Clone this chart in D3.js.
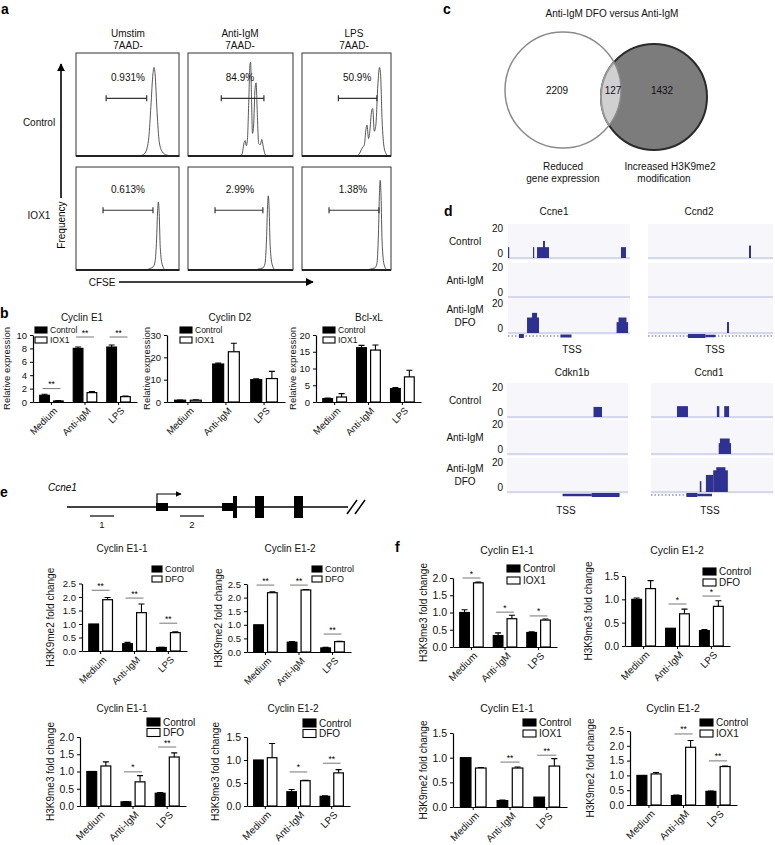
<!DOCTYPE html>
<html>
<head>
<meta charset="utf-8">
<script src="https://cdn.jsdelivr.net/npm/d3@7"></script>
<style>
  body { margin: 0; background: #fff; }
  svg { font-family: "Liberation Sans", Arial, Helvetica, sans-serif; }
</style>
</head>
<body>
<svg width="775" height="845"></svg>
<script>
// ---------- panel a : CFSE histograms  [CFSE 0-100, frequency 0-100]
const flowCols = [['Umstim', '7AAD-'], ['Anti-IgM', '7AAD-'], ['LPS', '7AAD-']];
const flowRows = ['Control', 'IOX1'];
const flowPct = [['0.931%', '84.9%', '50.9%'], ['0.613%', '2.99%', '1.38%']];
const flowGates = [[[29, 68], [32, 73], [35, 72]], [[26, 74], [26, 72], [26, 74]]];
const histUnstimCtrl = [[0,0],[60,0],[64,1],[67,4],[70,18],[72,48],[74,80],[75,86],[76,80],[78,42],[80,14],[83,4],[87,1],[92,0],[100,0]];
const histIgmCtrl = [[0,0],[50,0],[52,2],[54,13],[55,15],[56,10],[57,14],[58.5,55],[59.5,88],[60.2,91],[61,60],[62,22],[63,28],[64.5,66],[65.5,71],[66.5,45],[68,12],[69.5,11],[71,16],[72,11],[74,2],[76,0],[100,0]];
const histLpsCtrl = [[0,0],[52,0],[55,2],[57,6],[58,8],[60,11],[61.5,26],[62.5,30],[64,17],[65,22],[67,44],[68,46],[69.5,24],[71,30],[73,70],[74.5,86],[75.5,80],[77,35],[79,8],[81,2],[83,0],[100,0]];
const histUnstimIox = [[0,0],[66,0],[70,1],[74,3],[76,8],[77.5,30],[78.5,58],[79.2,66],[80,55],[81,22],[83,5],[86,0],[100,0]];
const histIgmIox = [[0,0],[64,0],[68,1],[72,2],[74,6],[75.5,30],[76.5,62],[77.2,72],[78,60],[79,24],[81,5],[84,0],[100,0]];
const histLpsIox = [[0,0],[62,0],[66,1],[70,2],[72,6],[73.5,35],[74.5,75],[75.2,87],[76,72],[77,28],[79,5],[82,0],[100,0]];

// ---------- panel b : relative expression  [group, control, sem, treated, sem]
const cycE1Expr = [['Medium',1.0,0.15,0.15,0.05],['Anti-IgM',8.0,0.2,1.4,0.15],['LPS',8.2,0.3,0.8,0.1]];
const cycD2Expr = [['Medium',0.8,0.1,0.8,0.15],['Anti-IgM',17.0,0.4,22.5,3.8],['LPS',10.0,0.4,10.5,3.2]];
const bclXlExpr = [['Medium',1.0,0.2,1.5,1.0],['Anti-IgM',16.2,0.7,15.5,1.5],['LPS',4.0,0.3,7.5,2.0]];
const cycE1Sig = [['Medium','**',2.0],['Anti-IgM','**',9.7],['LPS','**',9.7]];

// ---------- panel c : venn counts
const vennCounts = [2209, 127, 1432];
const vennLabels = [['Reduced', 'gene expression'], ['Increased H3K9me2', 'modification']];

// ---------- panel d : ChIP tracks  [start, end, signal] on 0-100 window
const trackRows = [['Control'], ['Anti-IgM'], ['Anti-IgM', 'DFO']];
const ccne1Tracks = [
  [[0,0.8,7],[20.5,21.3,7],[23.8,33.6,7],[28.7,30.3,11],[92.6,96.7,7]],
  [],
  [[15.6,25.4,10],[19.7,23.8,13],[89,98.4,7],[90.6,97.1,10]]];
const ccnd2Tracks = [[[80.8,82.4,8]], [], [[63.2,64.8,7]]];
const cdkn1bTracks = [[[71.5,78.5,6.5]], [], []];
const ccnd1Tracks = [
  [[21.3,30.3,7],[54,56,7],[60,64,7]],
  [[55.5,65.6,7],[56.5,64.5,10]],
  [[40,41.3,7],[45,51,11],[51,63,14],[53.5,61,16]]];
// gene models: [line start, line end], blocks [start, end, thickness]
const ccne1Gene = [[0, 52], [[9,13,4],[43,52,3]]];
const ccnd2Gene = [[0, 100], [[32,46,4],[46,54,2.5]]];
const cdkn1bGene = [[46, 93], [[46,70,2.5],[70,93,4]]];
const ccnd1Gene = [[0, 50], [[29,38,4],[38,50,2.5]]];

// ---------- panel e gene diagram (bp-like units)
const ccne1Exons = [[89,101,8],[155,166,8],[166,170,22],[188,197,22],[227,236,22]];
const ccne1Amplicons = [['1', 23, 47], ['2', 113, 137]];

// ---------- panels e / f : ChIP-qPCR fold change
const e1Me2Dfo = [['Medium',1.0,0,1.9,0.08],['Anti-IgM',0.27,0.05,1.42,0.32],['LPS',0.13,0.01,0.68,0.03]];
const e2Me2Dfo = [['Medium',1.0,0,2.18,0.03],['Anti-IgM',0.36,0.02,2.28,0.02],['LPS',0.15,0.02,0.38,0.01]];
const e1Me3Dfo = [['Medium',1.0,0,1.16,0.12],['Anti-IgM',0.12,0.01,0.7,0.18],['LPS',0.37,0.02,1.42,0.12]];
const e2Me3Dfo = [['Medium',1.0,0,1.05,0.31],['Anti-IgM',0.31,0.05,0.55,0.01],['LPS',0.21,0.01,0.72,0.07]];
const f1Me3Iox = [['Medium',1.0,0.08,1.86,0.02],['Anti-IgM',0.33,0.08,0.82,0.1],['LPS',0.42,0.02,0.78,0.03]];
const f2Me3Dfo = [['Medium',1.0,0.03,1.23,0.17],['Anti-IgM',0.38,0,0.69,0.1],['LPS',0.33,0.02,0.85,0.12]];
const f1Me2Iox = [['Medium',1.0,0,0.79,0.01],['Anti-IgM',0.13,0.01,0.79,0.02],['LPS',0.2,0,0.83,0.15]];
const f2Me2Iox = [['Medium',1.0,0,1.05,0.05],['Anti-IgM',0.32,0.02,1.95,0.23],['LPS',0.46,0.01,1.3,0.02]];
const e1Me2Sig = [['Medium','**',2.25],['Anti-IgM','**',1.96],['LPS','**',1.03]];
const e2Me2Sig = [['Medium','**',2.46],['Anti-IgM','**',2.46],['LPS','**',0.66]];
const e1Me3Sig = [['Anti-IgM','*',0.99],['LPS','**',1.71]];
const e2Me3Sig = [['Anti-IgM','*',0.74],['LPS','**',0.93]];
const f1Me3Sig = [['Medium','*',2.0],['Anti-IgM','*',1.01],['LPS','*',0.9]];
const f2Me3Sig = [['Anti-IgM','*',0.9],['LPS','*',1.07]];
const f1Me2Sig = [['Anti-IgM','**',0.91],['LPS','**',1.05]];
const f2Me2Sig = [['Anti-IgM','**',2.4],['LPS','**',1.49]];

const svg = d3.select('svg');
svg.append('rect').attr('width', 775).attr('height', 845).attr('fill', '#fff');

function text(x, y, s, size, anchor) {
  return svg.append('text').attr('x', x).attr('y', y).attr('dy', '0.35em')
    .attr('text-anchor', anchor || 'middle').attr('font-size', size).attr('fill', '#111').text(s);
}
function panelLetter(x, y, s) {
  svg.append('text').attr('x', x).attr('y', y).attr('font-size', 14)
    .attr('font-weight', 'bold').attr('fill', '#000').text(s);
}

// ================= panel a
panelLetter(1, 14, 'a');
const boxX = [76, 188, 302], boxW = [103, 105, 89], rowY = [53, 167], boxH = 103;
const hists = [[histUnstimCtrl, histIgmCtrl, histLpsCtrl], [histUnstimIox, histIgmIox, histLpsIox]];

svg.append('clipPath').attr('id', 'clipA').append('rect')
  .attr('x', 302).attr('y', 0).attr('width', 89).attr('height', 300);

flowCols.forEach((c, j) => {
  text(boxX[j] + 52, 33, c[0], 10);
  text(boxX[j] + 52, 45, c[1], 10);
});

flowRows.forEach((r, i) => {
  flowCols.forEach((c, j) => {
    const xs = d3.scaleLinear().domain([0, 100]).range([boxX[j], boxX[j] + 104]);
    const ys = d3.scaleLinear().domain([0, 100]).range([rowY[i] + boxH, rowY[i]]);
    const g = svg.append('g');
    if (j === 2) g.attr('clip-path', 'url(#clipA)');
    g.append('path').datum(hists[i][j])
      .attr('d', d3.line().x(d => xs(d[0])).y(d => ys(d[1])).curve(d3.curveMonotoneX))
      .attr('fill', 'none').attr('stroke', '#444').attr('stroke-width', 0.9);
    svg.append('rect').attr('x', boxX[j]).attr('y', rowY[i]).attr('width', boxW[j]).attr('height', boxH)
      .attr('fill', 'none').attr('stroke', '#333').attr('stroke-width', 1);
    svg.append('line').attr('x1', boxX[j]).attr('x2', boxX[j] + boxW[j])
      .attr('y1', rowY[i] + boxH).attr('y2', rowY[i] + boxH).attr('stroke', '#222').attr('stroke-width', 1.8);
    const gate = flowGates[i][j], gy = ys(i ? 58 : 56);
    svg.append('line').attr('x1', xs(gate[0])).attr('x2', xs(gate[1])).attr('y1', gy).attr('y2', gy)
      .attr('stroke', '#333').attr('stroke-width', 1.2);
    gate.forEach(v => svg.append('line').attr('x1', xs(v)).attr('x2', xs(v))
      .attr('y1', gy - 3).attr('y2', gy + 3).attr('stroke', '#333').attr('stroke-width', 1.2));
    const px = (j === 2) ? (i ? 49 : 53) : 50;
    text(xs(px), ys(i ? 78 : 76), flowPct[i][j], 10);
  });
  text(39, i ? 215 : 122, r, 10);
});

// axes arrows
svg.append('defs').append('marker').attr('id', 'arr').attr('viewBox', '0 0 10 10')
  .attr('refX', 9).attr('refY', 5).attr('markerWidth', 5).attr('markerHeight', 5).attr('orient', 'auto')
  .append('path').attr('d', 'M0,0L10,5L0,10z').attr('fill', '#000');
svg.append('line').attr('x1', 61).attr('x2', 61).attr('y1', 198).attr('y2', 64)
  .attr('stroke', '#000').attr('stroke-width', 1.6).attr('marker-end', 'url(#arr)');
svg.append('text').attr('transform', 'translate(61,225) rotate(-90)').attr('dy', '0.35em')
  .attr('text-anchor', 'middle').attr('font-size', 10).text('Frequency');
text(102, 282, 'CFSE', 10);
svg.append('line').attr('x1', 119).attr('x2', 313).attr('y1', 282).attr('y2', 282)
  .attr('stroke', '#000').attr('stroke-width', 1.6).attr('marker-end', 'url(#arr)');

// ================= bar chart helper (panels b, e, f)
function barChart(c) {
  const x = d3.scaleBand().domain(c.rows.map(r => r[0])).range([c.x0, c.x1])
    .paddingInner(0.3).paddingOuter(0.2);
  const xi = d3.scaleBand().domain([0, 1]).range([0, x.bandwidth()]).paddingInner(0.3);
  const y = d3.scaleLinear().domain([0, c.max]).range([c.y0, c.yTop]);
  const g = svg.append('g');
  const bars = c.rows.flatMap(r => [
    { grp: r[0], k: 0, v: r[1], e: r[2] }, { grp: r[0], k: 1, v: r[3], e: r[4] }]);
  const bx = d => x(d.grp) + xi(d.k);

  g.selectAll('.err').data(bars.filter(d => d.e > 0)).enter().append('path')
    .attr('d', d => {
      const cx = bx(d) + xi.bandwidth() / 2, t = y(d.v + d.e);
      return `M${cx},${y(d.v)}V${t}M${cx - 3},${t}H${cx + 3}`;
    })
    .attr('stroke', '#000').attr('stroke-width', 1.1).attr('fill', 'none');
  g.selectAll('.bar').data(bars).enter().append('rect')
    .attr('x', bx).attr('y', d => y(d.v)).attr('width', xi.bandwidth())
    .attr('height', d => c.y0 - y(d.v))
    .attr('fill', d => d.k ? '#fff' : '#000').attr('stroke', '#000').attr('stroke-width', 1.2);

  const ay = g.append('g').attr('transform', `translate(${c.x0},0)`)
    .call(d3.axisLeft(y).tickValues(c.ticks).tickSize(3).tickSizeOuter(0).tickFormat(c.fmt));
  ay.selectAll('text').attr('font-size', c.tickFont).attr('fill', '#111').attr('font-family', null);
  ay.select('.domain').attr('stroke-width', 1.2);
  const ax = g.append('g').attr('transform', `translate(0,${c.y0})`)
    .call(d3.axisBottom(x).tickSize(3).tickSizeOuter(0).tickFormat(''));
  ax.select('.domain').attr('stroke-width', 1.2);

  g.selectAll('.xl').data(c.rows).enter().append('text')
    .attr('transform', d => `translate(${x(d[0]) + x.bandwidth() / 2 + 4},${c.y0 + 7}) rotate(-45)`)
    .attr('dy', '0.35em').attr('text-anchor', 'end').attr('font-size', c.labFont).attr('fill', '#111')
    .text(d => d[0]);

  (c.sig || []).forEach(s => {
    const l = x(s[0]) + xi.bandwidth() / 2 - 2, r = x(s[0]) + xi(1) + xi.bandwidth() / 2 + 2;
    g.append('line').attr('x1', l).attr('x2', r).attr('y1', y(s[2])).attr('y2', y(s[2]))
      .attr('stroke', '#777').attr('stroke-width', 1);
    g.append('text').attr('x', (l + r) / 2).attr('y', y(s[2]) - 1.5).attr('text-anchor', 'middle')
      .attr('font-size', 8.5).text(s[1]);
  });

  c.legend.forEach((s, i) => {
    g.append('rect').attr('x', c.leg[0]).attr('y', c.leg[1] + i * c.leg[4])
      .attr('width', c.leg[2]).attr('height', c.leg[3])
      .attr('fill', i ? '#fff' : '#000').attr('stroke', '#000').attr('stroke-width', 1.1);
    g.append('text').attr('x', c.leg[0] + c.leg[2] + 3).attr('y', c.leg[1] + i * c.leg[4] + c.leg[3] / 2)
      .attr('dy', '0.35em').attr('font-size', c.legFont).attr('fill', '#111').text(s);
  });

  text(c.title[1], c.title[2], c.title[0], c.titleFont);
  g.append('text').attr('transform', `translate(${c.ylab[1]},${(c.y0 + c.yTop) / 2}) rotate(-90)`)
    .attr('dy', '0.35em').attr('text-anchor', 'middle').attr('font-size', c.ylab[2]).attr('fill', '#111')
    .text(c.ylab[0]);
}

const f0 = d3.format('d'), f1 = d3.format('.1f');

// ================= panel b
panelLetter(0, 318, 'b');
barChart({ rows: cycE1Expr, sig: cycE1Sig, x0: 33, x1: 137, y0: 402, yTop: 335, max: 10,
  ticks: [0, 2, 4, 6, 8, 10], fmt: f0, tickFont: 9.5, labFont: 9.5,
  legend: ['Control', 'IOX1'], leg: [35, 327, 12, 6, 10], legFont: 8.5,
  title: ['Cyclin E1', 82, 317, ], titleFont: 10, ylab: ['Relative expression', 7, 9.5] });
barChart({ rows: cycD2Expr, x0: 167, x1: 285, y0: 402, yTop: 335, max: 30,
  ticks: [0, 10, 20, 30], fmt: f0, tickFont: 9.5, labFont: 9.5,
  legend: ['Control', 'IOX1'], leg: [180, 327, 12, 6, 10], legFont: 8.5,
  title: ['Cyclin D2', 230, 317], titleFont: 10, ylab: ['Relative expression', 147, 9.5] });
barChart({ rows: bclXlExpr, x0: 316, x1: 421, y0: 402, yTop: 335, max: 20,
  ticks: [0, 5, 10, 15, 20], fmt: f0, tickFont: 9.5, labFont: 9.5,
  legend: ['Control', 'IOX1'], leg: [323, 327, 12, 6, 10], legFont: 8.5,
  title: ['Bcl-xL', 369, 317], titleFont: 10, ylab: ['Relative expression', 293, 9.5] });

// ================= panel c
panelLetter(443, 14, 'c');
text(612, 13, 'Anti-IgM DFO versus Anti-IgM', 10);
const L = { x: 563, y: 90, r: 58 }, R = { x: 654, y: 97, r: 53 };
const defs = svg.append('defs');
defs.append('clipPath').attr('id', 'clipL').append('circle').attr('cx', L.x).attr('cy', L.y).attr('r', L.r);
svg.append('circle').attr('cx', L.x).attr('cy', L.y).attr('r', L.r).attr('fill', '#fff');
svg.append('circle').attr('cx', R.x).attr('cy', R.y).attr('r', R.r)
  .attr('fill', '#7c7c7c').attr('stroke', '#2a2a2a').attr('stroke-width', 2);
svg.append('circle').attr('cx', R.x).attr('cy', R.y).attr('r', R.r).attr('clip-path', 'url(#clipL)')
  .attr('fill', '#d0d0d0').attr('stroke', '#9a9a9a').attr('stroke-width', 2);
svg.append('circle').attr('cx', L.x).attr('cy', L.y).attr('r', L.r)
  .attr('fill', 'none').attr('stroke', '#8a8a8a').attr('stroke-width', 1.5);
text(557, 90, vennCounts[0], 10);
text(613, 90, vennCounts[1], 10);
text(662, 90, vennCounts[2], 10);
text(563, 166, vennLabels[0][0], 10); text(563, 178, vennLabels[0][1], 10);
text(670, 166, vennLabels[1][0], 10); text(664, 178, vennLabels[1][1], 10);

// ================= panel d
panelLetter(444, 216, 'd');
const blue = '#2e3192';
function trackBlock(gx, gw, bases, tracks, gene, geneY) {
  const xs = d3.scaleLinear().domain([0, 100]).range([gx, gx + gw]);
  bases.forEach((b, i) => {
    const ys = d3.scaleLinear().domain([0, 20]).range([b, b - 31]);
    svg.append('rect').attr('x', gx).attr('y', b - 34).attr('width', gw).attr('height', 36).attr('fill', '#f6f6fb');
    svg.append('line').attr('x1', gx).attr('x2', gx + gw).attr('y1', b).attr('y2', b)
      .attr('stroke', '#b4b8df').attr('stroke-width', 1);
    svg.selectAll(null).data(tracks[i]).enter().append('rect')
      .attr('x', d => xs(d[0])).attr('width', d => Math.max(1.2, xs(d[1]) - xs(d[0])))
      .attr('y', d => ys(d[2])).attr('height', d => b - ys(d[2])).attr('fill', blue);
  });
  svg.append('line').attr('x1', xs(gene[0][0])).attr('x2', xs(gene[0][1])).attr('y1', geneY).attr('y2', geneY)
    .attr('stroke', blue).attr('stroke-width', 0.8).attr('stroke-dasharray', '1.5,2');
  svg.selectAll(null).data(gene[1]).enter().append('rect')
    .attr('x', d => xs(d[0])).attr('width', d => xs(d[1]) - xs(d[0]))
    .attr('y', d => geneY - d[2] / 2).attr('height', d => d[2]).attr('fill', blue);
}
function rowLabels(bases) {
  bases.forEach((b, i) => {
    const lab = trackRows[i];
    const cy = b - 17;
    lab.forEach((s, k) => text(465, cy + (k - (lab.length - 1) / 2) * 13, s, 10));
    text(503, b - 30, '20', 10, 'end');
    text(503, b - 5, '0', 10, 'end');
  });
}
const basesTop = [258, 297, 333], basesBot = [417, 454, 492];
rowLabels(basesTop); rowLabels(basesBot);
text(554, 211, 'Ccne1', 10); text(699, 211, 'Ccnd2', 10);
text(572, 372, 'Cdkn1b', 10); text(709, 372, 'Ccnd1', 10);
trackBlock(508, 122, basesTop, ccne1Tracks, ccne1Gene, 336);
trackBlock(648, 125, basesTop, ccnd2Tracks, ccnd2Gene, 336);
trackBlock(507, 121, basesBot, cdkn1bTracks, cdkn1bGene, 495);
trackBlock(651, 122, basesBot, ccnd1Tracks, ccnd1Gene, 495);
text(572, 349, 'TSS', 10); text(715, 349, 'TSS', 10);
text(566, 510, 'TSS', 10); text(710, 510, 'TSS', 10);

// ================= panel e : gene diagram
panelLetter(0, 497, 'e');
svg.append('text').attr('x', 48).attr('y', 491).attr('font-size', 10).attr('font-style', 'italic').text('Ccne1');
const gx = d3.scaleLinear().domain([0, 300]).range([67, 367]);
svg.append('line').attr('x1', gx(0)).attr('x2', gx(281)).attr('y1', 507).attr('y2', 507)
  .attr('stroke', '#000').attr('stroke-width', 1.3);
svg.selectAll(null).data(ccne1Exons).enter().append('rect')
  .attr('x', d => gx(d[0])).attr('width', d => gx(d[1]) - gx(d[0]))
  .attr('y', d => 507 - d[2] / 2).attr('height', d => d[2]).attr('fill', '#000');
svg.append('path').attr('d', `M${gx(90)},503V494H${gx(114)}`).attr('fill', 'none')
  .attr('stroke', '#000').attr('stroke-width', 1.2).attr('marker-end', 'url(#arr)');
[[283, 291], [291, 299]].forEach(s => svg.append('line')
  .attr('x1', gx(s[0]) - 3).attr('x2', gx(s[0]) + 7).attr('y1', 514).attr('y2', 500)
  .attr('stroke', '#000').attr('stroke-width', 1.5));
ccne1Amplicons.forEach(a => {
  svg.append('line').attr('x1', gx(a[1])).attr('x2', gx(a[2])).attr('y1', 516).attr('y2', 516)
    .attr('stroke', '#000').attr('stroke-width', 1.2);
  text((gx(a[1]) + gx(a[2])) / 2, 525, a[0], 9.5);
});

// ================= panel e charts
barChart({ rows: e1Me2Dfo, sig: e1Me2Sig, x0: 82, x1: 187, y0: 651, yTop: 583.5, max: 2.5,
  ticks: [0, 0.5, 1, 1.5, 2, 2.5], fmt: f1, tickFont: 9.5, labFont: 9.5,
  legend: ['Control', 'DFO'], leg: [152, 566, 10, 6, 10], legFont: 9,
  title: ['Cyclin E1-1', 122, 548], titleFont: 10, ylab: ['H3K9me2 fold change', 50, 10] });
barChart({ rows: e2Me2Dfo, sig: e2Me2Sig, x0: 247, x1: 351, y0: 652, yTop: 584, max: 2.5,
  ticks: [0, 0.5, 1, 1.5, 2, 2.5], fmt: f1, tickFont: 9.5, labFont: 9.5,
  legend: ['Control', 'DFO'], leg: [312, 566, 10, 6, 10], legFont: 9,
  title: ['Cyclin E1-2', 290, 548], titleFont: 10, ylab: ['H3K9me2 fold change', 218, 10] });
barChart({ rows: e1Me3Dfo, sig: e1Me3Sig, x0: 80, x1: 186, y0: 806, yTop: 737, max: 2,
  ticks: [0, 0.5, 1, 1.5, 2], fmt: f1, tickFont: 10.5, labFont: 10,
  legend: ['Control', 'DFO'], leg: [147, 718, 13, 8, 10.5], legFont: 10,
  title: ['Cyclin E1-1', 122, 708], titleFont: 10, ylab: ['H3K9me3 fold change', 50, 10] });
barChart({ rows: e2Me3Dfo, sig: e2Me3Sig, x0: 247, x1: 350, y0: 806, yTop: 737, max: 1.5,
  ticks: [0, 0.5, 1, 1.5], fmt: f1, tickFont: 10.5, labFont: 10,
  legend: ['Control', 'DFO'], leg: [303, 719, 13, 8, 10.5], legFont: 10,
  title: ['Cyclin E1-2', 293, 708], titleFont: 10, ylab: ['H3K9me3 fold change', 215, 10] });

// ================= panel f charts
panelLetter(395, 552, 'f');
barChart({ rows: f1Me3Iox, sig: f1Me3Sig, x0: 453, x1: 557, y0: 647, yTop: 578, max: 2,
  ticks: [0, 0.5, 1, 1.5, 2], fmt: f1, tickFont: 10.5, labFont: 10,
  legend: ['Control', 'IOX1'], leg: [507, 565, 13, 7, 12], legFont: 10,
  title: ['Cyclin E1-1', 507, 550], titleFont: 10.5, ylab: ['H3K9me3 fold change', 423, 10] });
barChart({ rows: f2Me3Dfo, sig: f2Me3Sig, x0: 625, x1: 730, y0: 646, yTop: 576, max: 1.5,
  ticks: [0, 0.5, 1, 1.5], fmt: f1, tickFont: 10.5, labFont: 10,
  legend: ['Control', 'DFO'], leg: [703, 568, 13, 7, 11], legFont: 10,
  title: ['Cyclin E1-2', 677, 550], titleFont: 10.5, ylab: ['H3K9me3 fold change', 588, 10] });
barChart({ rows: f1Me2Iox, sig: f1Me2Sig, x0: 453, x1: 567, y0: 807, yTop: 733, max: 1.5,
  ticks: [0, 0.5, 1, 1.5], fmt: f1, tickFont: 10.5, labFont: 10,
  legend: ['Control', 'IOX1'], leg: [523, 719, 13, 7, 11], legFont: 10,
  title: ['Cyclin E1-1', 507, 708], titleFont: 10.5, ylab: ['H3K9me2 fold change', 423, 10] });
barChart({ rows: f2Me2Iox, sig: f2Me2Sig, x0: 630, x1: 737, y0: 805, yTop: 731, max: 2.5,
  ticks: [0, 0.5, 1, 1.5, 2, 2.5], fmt: f1, tickFont: 10.5, labFont: 10,
  legend: ['Control', 'IOX1'], leg: [700, 719, 13, 7, 11], legFont: 10,
  title: ['Cyclin E1-2', 673, 708], titleFont: 10.5, ylab: ['H3K9me2 fold change', 590, 10] });
</script>
</body>
</html>
